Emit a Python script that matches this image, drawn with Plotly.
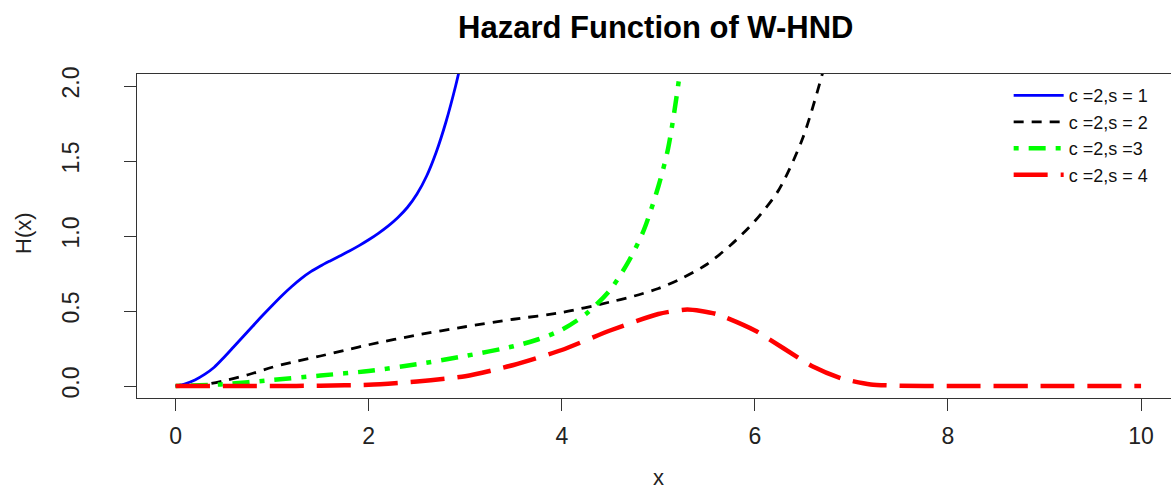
import plotly.graph_objects as go

# ---- data ----
x_s1 = [0, 0.1, 0.2, 0.3, 0.4, 0.5, 0.6, 0.7, 0.8, 0.9, 1.0, 1.1, 1.2, 1.3, 1.4, 1.5, 1.6,
        1.7, 1.8, 1.9, 2.0, 2.1, 2.2, 2.3, 2.4, 2.5, 2.6, 2.7, 2.8, 2.9, 3.0]
h_s1 = [0, 0.015, 0.04, 0.077, 0.125, 0.19, 0.26, 0.33, 0.40, 0.47, 0.537, 0.602, 0.662,
        0.716, 0.762, 0.80, 0.834, 0.867, 0.90, 0.936, 0.975, 1.018, 1.066, 1.122, 1.19,
        1.28, 1.40, 1.56, 1.76, 2.0, 2.28]

x_s2 = [0, 0.25, 0.5, 0.75, 1.0, 1.25, 1.5, 1.75, 2.0, 2.5, 3.0, 3.5, 4.0, 4.5, 4.75, 5.0,
        5.25, 5.5, 5.75, 6.0, 6.25, 6.5, 6.75]
h_s2 = [0, 0.005, 0.035, 0.075, 0.125, 0.165, 0.20, 0.238, 0.275, 0.34, 0.395, 0.445,
        0.49, 0.56, 0.60, 0.65, 0.72, 0.81, 0.94, 1.10, 1.31, 1.66, 2.2]

x_s3 = [0, 0.5, 1.0, 1.5, 2.0, 2.5, 3.0, 3.5, 3.75, 4.0, 4.25, 4.5, 4.7, 4.85, 5.0, 5.1,
        5.2, 5.3]
h_s3 = [0, 0.012, 0.04, 0.07, 0.10, 0.145, 0.20, 0.265, 0.31, 0.375, 0.48, 0.64, 0.84,
        1.04, 1.33, 1.58, 1.98, 2.5]

x_s4 = [0, 0.5, 1.0, 1.5, 2.0, 2.5, 3.0, 3.5, 4.0, 4.5, 5.0, 5.3, 5.6, 6.0, 6.3, 6.6,
        6.9, 7.2, 7.5, 8.0, 9.0, 10.0]
h_s4 = [0, 0, 0, 0.002, 0.008, 0.03, 0.065, 0.14, 0.24, 0.37, 0.48, 0.51, 0.48, 0.37,
        0.25, 0.13, 0.05, 0.01, 0.002, 0, 0, 0]

labels = ["c =2,s = 1", "c =2,s = 2", "c =2,s =3", "c =2,s = 4"]
x_ticks = [0, 2, 4, 6, 8, 10]
y_ticks = [0.0, 0.5, 1.0, 1.5, 2.0]
y_ticktext = ["0.0", "0.5", "1.0", "1.5", "2.0"]

FONT = "Liberation Sans, Arial, sans-serif"

fig = go.Figure()
fig.add_trace(go.Scatter(x=x_s1, y=h_s1, mode="lines", name=labels[0],
                         line=dict(color="#0000ff", width=2.8, shape="spline", smoothing=0.8)))
fig.add_trace(go.Scatter(x=x_s2, y=h_s2, mode="lines", name=labels[1],
                         line=dict(color="#000000", width=2.8, dash="10px,8px",
                                   shape="spline", smoothing=0.8)))
fig.add_trace(go.Scatter(x=x_s3, y=h_s3, mode="lines", name=labels[2],
                         line=dict(color="#00ff00", width=4.5, dash="5px,10px,17px,10px",
                                   shape="spline", smoothing=0.8)))
fig.add_trace(go.Scatter(x=x_s4, y=h_s4, mode="lines", name=labels[3],
                         line=dict(color="#ff0000", width=4.5, dash="34px,13px",
                                   shape="spline", smoothing=0.6)))

axis_common = dict(showgrid=False, zeroline=False, showline=True, linecolor="#333333",
                   linewidth=1, ticks="outside", ticklen=12, tickwidth=1,
                   tickcolor="#333333",
                   tickfont=dict(family=FONT, size=23, color="#222222"))

fig.update_layout(
    width=1171, height=491,
    margin=dict(l=137, r=0, t=74, b=93),
    paper_bgcolor="white", plot_bgcolor="white",
    title=dict(text="<b>Hazard Function of W-HND</b>", x=0.56, xanchor="center",
               y=1 - 27 / 491, yanchor="middle",
               font=dict(family=FONT, size=31, color="#000000")),
    xaxis=dict(range=[-0.4, 10.31], tickvals=x_ticks, mirror=True,
               ticklabelstandoff=5, **axis_common),
    yaxis=dict(range=[-0.08, 2.08], tickvals=y_ticks, ticktext=y_ticktext,
               tickangle=-90, ticklabelstandoff=36, **axis_common),
    showlegend=True,
    legend=dict(x=0.843, y=0.99, xanchor="left", yanchor="top",
                bgcolor="rgba(0,0,0,0)", borderwidth=0,
                font=dict(family=FONT, size=18, color="#111111"),
                tracegroupgap=0, itemwidth=50),
    annotations=[
        dict(text="x", xref="paper", yref="paper", x=(658 - 137) / 1034,
             y=-(477 - 398) / 324, xanchor="center", yanchor="middle", showarrow=False,
             font=dict(family=FONT, size=22, color="#222222")),
        dict(text="H(x)", xref="paper", yref="paper", x=-(137 - 23) / 1034,
             y=(398 - 233) / 324, xanchor="center", yanchor="middle", showarrow=False,
             textangle=-90, font=dict(family=FONT, size=22, color="#222222")),
    ],
)

fig.write_html("out.html")
